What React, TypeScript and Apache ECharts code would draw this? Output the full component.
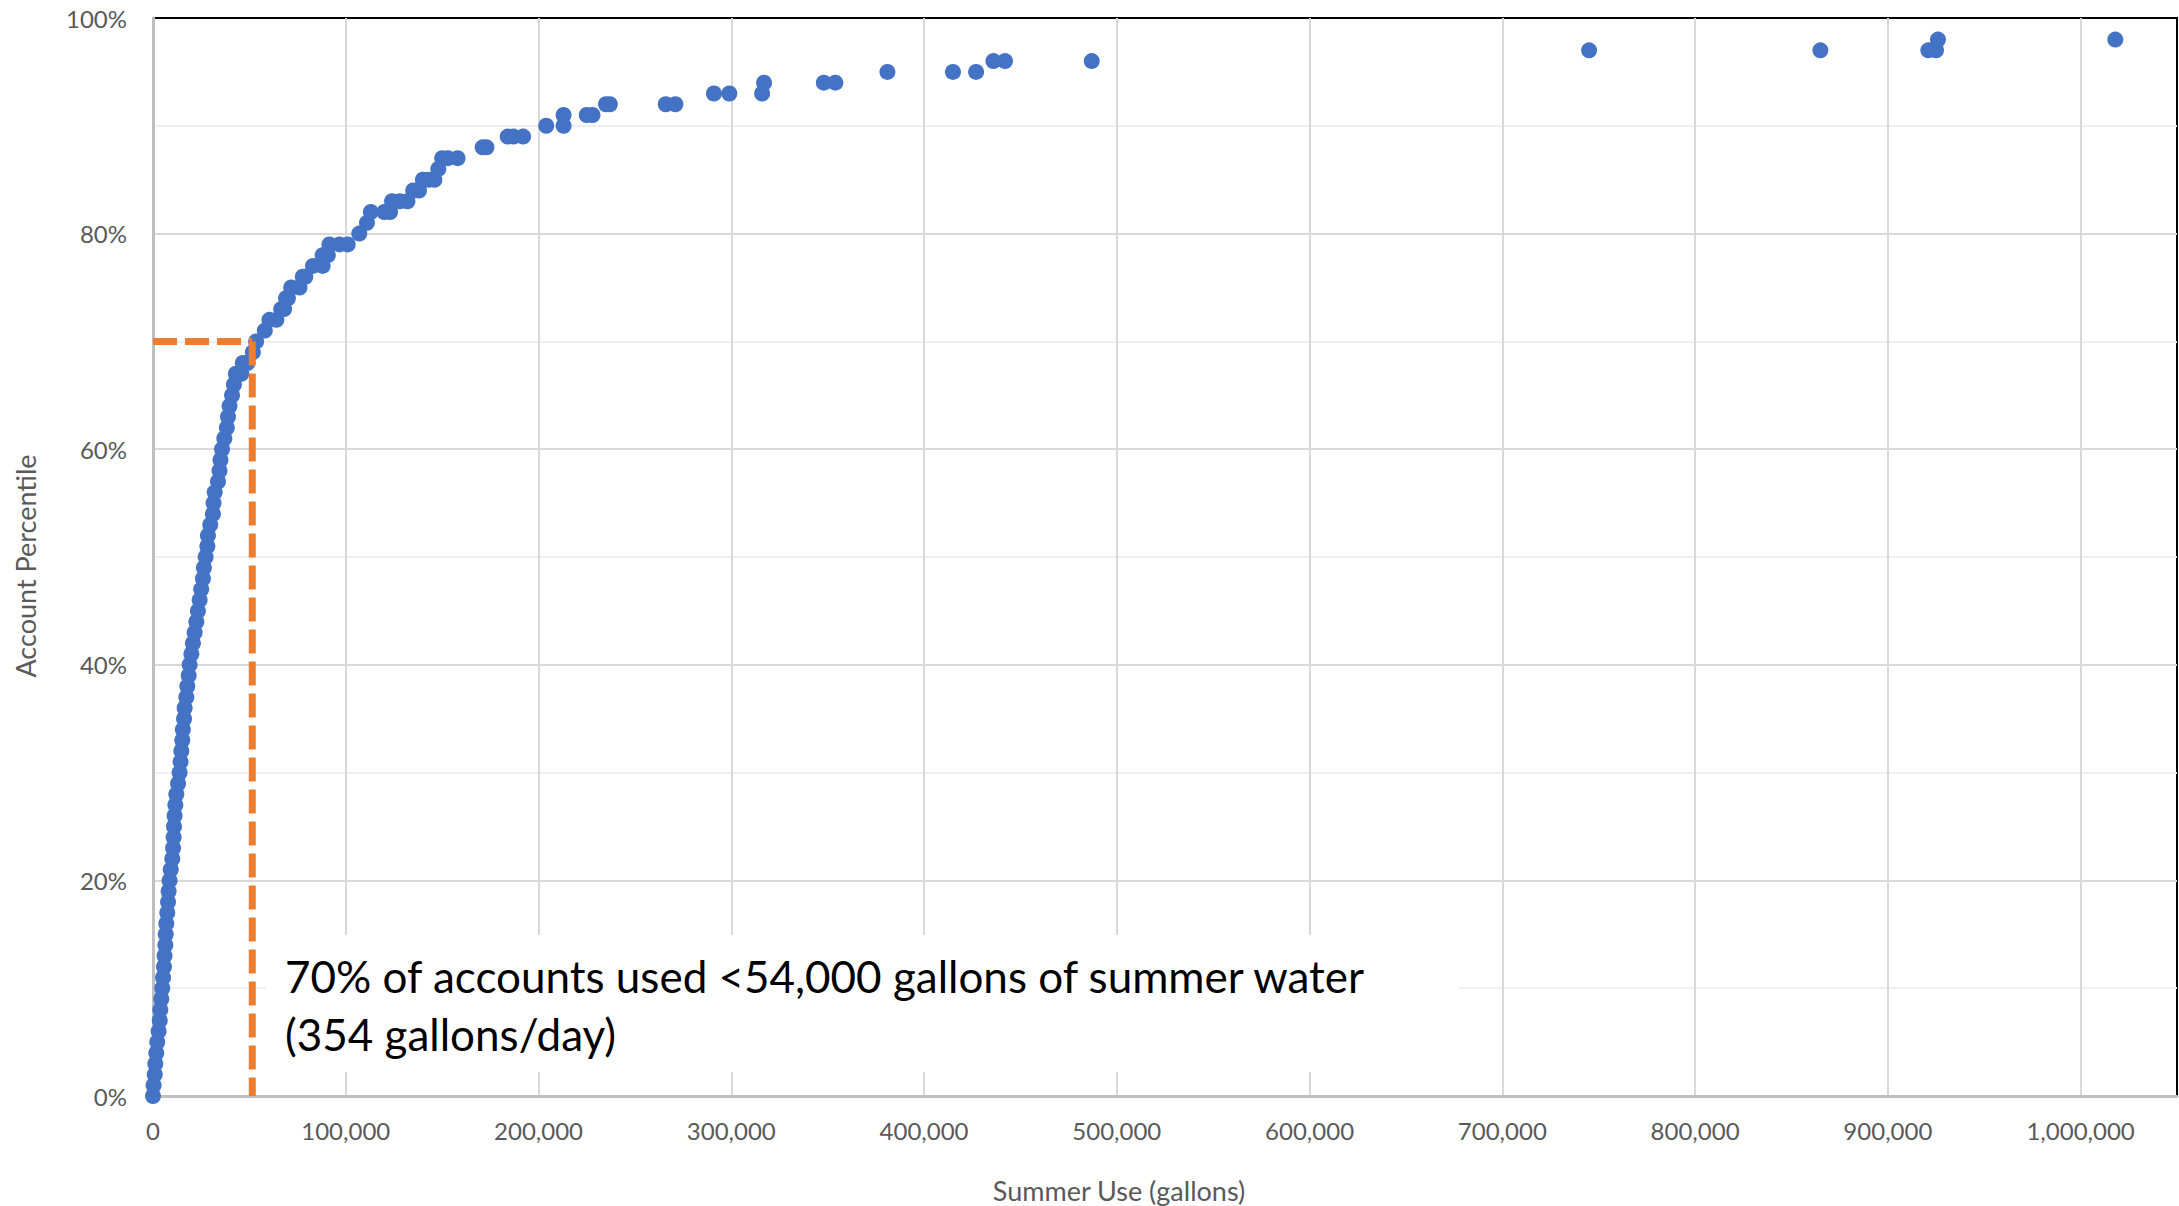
import React, { useEffect, useRef } from "react";
import * as echarts from "echarts";

// Summer use (gallons) of each account, paired with its account percentile (%)
const usage = [
  0, 300, 900, 1200, 1700, 2200, 2900, 3500, 3800, 4300,
  4800, 5200, 5700, 6000, 6400, 6600, 6900, 7400, 7800, 8100,
  8600, 9200, 10000, 10400, 10700, 10900, 11200, 11600, 12100, 13000,
  13800, 14300, 14700, 15200, 15500, 16100, 16400, 17300, 17800, 18500,
  19000, 19900, 20700, 21600, 22500, 23300, 24200, 25000, 25900, 26400,
  27300, 28200, 28500, 29700, 31100, 31400, 32000, 33700, 34500, 35000,
  35800, 37000, 38300, 38900, 39700, 41000, 42000, 43000, 45800, 46600,
  49000, 51800, 53500, 58000, 60400, 64000, 66500, 68000, 69000, 70000,
  71700, 76000, 77700, 79000, 83000, 88000, 88000, 90700, 91500, 96700,
  101000, 107000, 111000, 113000, 120000, 123000, 124000, 128000, 132000, 135000,
  138000, 140000, 143000, 146000, 148000, 150000, 153000, 158000, 171000, 173000,
  184000, 187000, 192000, 204000, 213000, 213000, 225000, 228000, 235000, 237000,
  266000, 271000, 291000, 299000, 316000, 317000, 348000, 354000, 381000, 415000,
  427000, 436000, 442000, 487000, 745000, 865000, 921000, 925000, 926000, 1018000,
];
const percentile = [
  0, 1, 2, 3, 4, 5, 6, 7, 8, 9,
  10, 11, 12, 13, 14, 15, 16, 17, 18, 19,
  20, 21, 22, 23, 24, 25, 26, 27, 28, 29,
  30, 31, 32, 33, 34, 35, 36, 37, 38, 39,
  40, 41, 42, 43, 44, 45, 46, 47, 48, 49,
  50, 51, 52, 53, 54, 55, 56, 57, 58, 59,
  60, 61, 62, 63, 64, 65, 66, 67, 67, 68,
  68, 69, 70, 71, 72, 72, 73, 73, 74, 74,
  75, 75, 76, 76, 77, 77, 78, 78, 79, 79,
  79, 80, 81, 82, 82, 82, 83, 83, 83, 84,
  84, 85, 85, 85, 86, 87, 87, 87, 88, 88,
  89, 89, 89, 90, 90, 91, 91, 91, 92, 92,
  92, 92, 93, 93, 93, 94, 94, 94, 95, 95,
  95, 96, 96, 96, 97, 97, 97, 97, 98, 98,
];

// 70th-percentile reference lines
const cutoffUsage = 51500;
const cutoffPercentile = 70;

const annotationLines = [
  "70% of accounts used <54,000 gallons of summer water",
  "(354 gallons/day)",
];
const xTitle = "Summer Use (gallons)";
const yTitle = "Account Percentile";

const W = 2179;
const H = 1206;
const FONT = "Lato, 'Open Sans', sans-serif";

export default function App() {
  const ref = useRef<HTMLDivElement>(null);

  useEffect(() => {
    if (!ref.current) return;
    const chart = echarts.init(ref.current, undefined, { renderer: "svg" });
    const points = usage.map((u, i) => [u, percentile[i]]);
    const dash = { color: "#ED7D31", width: 7, type: [24, 8] as any };

    chart.setOption({
      animation: false,
      backgroundColor: "#ffffff",
      grid: {
        left: 153,
        right: 2,
        top: 18,
        bottom: 110,
        show: true,
        borderColor: "#000000",
        borderWidth: 2,
        backgroundColor: "transparent",
      },
      xAxis: {
        type: "value",
        min: 0,
        max: 1050000,
        interval: 100000,
        axisLine: { show: true, onZero: false, lineStyle: { color: "#bfbfbf", width: 3 } },
        axisTick: { show: false },
        axisLabel: {
          showMaxLabel: false,
          margin: 22,
          fontFamily: FONT,
          fontSize: 24,
          color: "#595959",
          formatter: (v: number) => v.toLocaleString("en-US"),
        },
        splitLine: {
          show: true,
          showMinLine: false,
          showMaxLine: false,
          lineStyle: { color: "#d9d9d9", width: 2 },
        },
      },
      yAxis: {
        type: "value",
        min: 0,
        max: 100,
        interval: 20,
        axisLine: { show: true, onZero: false, lineStyle: { color: "#bfbfbf", width: 3 } },
        axisTick: { show: false },
        axisLabel: {
          margin: 26,
          fontFamily: FONT,
          fontSize: 24,
          color: "#595959",
          formatter: "{value}%",
        },
        splitLine: {
          show: true,
          showMinLine: false,
          showMaxLine: false,
          lineStyle: { color: "#d9d9d9", width: 2 },
        },
        minorTick: { show: false, splitNumber: 2 },
        minorSplitLine: { show: true, lineStyle: { color: "#efefef", width: 2 } },
      },
      series: [
        {
          type: "scatter",
          data: points,
          symbol: "circle",
          symbolSize: 16,
          itemStyle: { color: "#4472C4", opacity: 1 },
          z: 3,
        },
        {
          type: "line",
          data: [
            [0, cutoffPercentile],
            [cutoffUsage, cutoffPercentile],
          ],
          showSymbol: false,
          symbol: "none",
          lineStyle: dash,
          z: 4,
          clip: false,
        },
        {
          type: "line",
          data: [
            [cutoffUsage, cutoffPercentile],
            [cutoffUsage, 0],
          ],
          showSymbol: false,
          symbol: "none",
          lineStyle: dash,
          z: 4,
          clip: false,
        },
      ],
      graphic: [
        {
          type: "rect",
          left: 266,
          top: 935,
          shape: { width: 1193, height: 137 },
          style: { fill: "#ffffff" },
          z: 10,
        },
        {
          type: "text",
          x: 285,
          y: 976,
          style: {
            text: annotationLines[0],
            fontFamily: FONT,
            fontSize: 44,
            fill: "#000000",
            verticalAlign: "middle",
            align: "left",
          },
          z: 11,
        },
        {
          type: "text",
          x: 285,
          y: 1034,
          style: {
            text: annotationLines[1],
            fontFamily: FONT,
            fontSize: 44,
            fill: "#000000",
            verticalAlign: "middle",
            align: "left",
          },
          z: 11,
        },
        {
          type: "text",
          x: 1119,
          y: 1190,
          style: {
            text: xTitle,
            fontFamily: FONT,
            fontSize: 27,
            fill: "#595959",
            align: "center",
            verticalAlign: "middle",
          },
          z: 11,
        },
        {
          type: "text",
          x: 25,
          y: 566,
          rotation: Math.PI / 2,
          style: {
            text: yTitle,
            fontFamily: FONT,
            fontSize: 27,
            fill: "#595959",
            align: "center",
            verticalAlign: "middle",
          },
          z: 11,
        },
      ],
    });
    return () => chart.dispose();
  }, []);

  return (
    <div
      ref={ref}
      style={{ position: "fixed", left: 0, top: 0, width: W, height: H, background: "#fff" }}
    />
  );
}
